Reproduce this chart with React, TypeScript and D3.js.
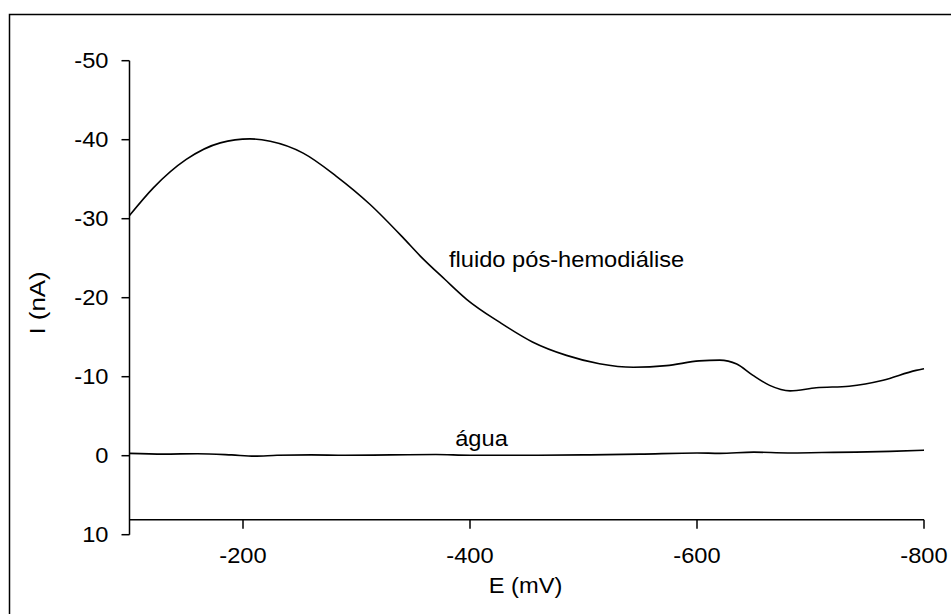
import React from 'react';
import * as d3 from 'd3';

// potential (mV) and current (nA)
const fluidE = [-100, -121, -150, -180, -206, -224, -253, -282, -312, -341, -356, -378, -397, -426, -455, -485, -514, -544, -573, -602, -620, -635, -649, -664, -682, -705, -734, -764, -793, -800];
const fluidI = [-30.4, -33.9, -37.5, -39.6, -40.1, -39.8, -38.3, -35.4, -31.8, -27.6, -25.3, -22.3, -19.8, -16.9, -14.4, -12.7, -11.65, -11.2, -11.4, -12.0, -12.1, -11.6, -10.2, -8.9, -8.2, -8.6, -8.8, -9.55, -10.8, -11.0];

const waterE = [-100, -130, -160, -190, -210, -230, -260, -290, -330, -370, -400, -450, -500, -550, -600, -620, -650, -680, -710, -740, -770, -800];
const waterI = [-0.3, -0.2, -0.25, -0.1, 0.05, -0.05, -0.1, -0.05, -0.1, -0.15, -0.05, -0.05, -0.1, -0.2, -0.35, -0.3, -0.45, -0.35, -0.4, -0.45, -0.55, -0.7];

const xTicks = [-200, -400, -600, -800];
const yTicks = [-50, -40, -30, -20, -10, 0, 10];
const xAxisAt = 8.1; // x axis crosses the y axis a little above 10

const FONT = 'Helvetica, Arial, "Liberation Sans", sans-serif';
const FS = 21.5;
const SX = 1.1; // lettering in the reference is a bit wide

const App: React.FC = () => {
  const width = 951;
  const height = 614;

  const x = d3.scaleLinear().domain([-100, -800]).range([129.5, 924]);
  const y = d3.scaleLinear().domain([-50, 10]).range([60.7, 534.7]);

  const line = d3.line<[number, number]>()
    .x(d => x(d[0]))
    .y(d => y(d[1]))
    .curve(d3.curveMonotoneX);

  const fluidPath = line(fluidE.map((e, i) => [e, fluidI[i]]) as [number, number][]) || '';
  const waterPath = line(waterE.map((e, i) => [e, waterI[i]]) as [number, number][]) || '';

  const axisY = y(xAxisAt);

  const label = (tx: number, ty: number, text: string, anchor: string = 'start') => (
    <g transform={`translate(${tx},${ty}) scale(${SX},1)`}>
      <text textAnchor={anchor} fontFamily={FONT} fontSize={FS} fill="#000">{text}</text>
    </g>
  );

  return (
    <svg width={width} height={height} style={{ position: 'absolute', left: 0, top: 0, background: '#fff' }}>
      <rect x={0} y={0} width={width} height={height} fill="#fff" />
      {/* outer frame, runs off the right and bottom edges */}
      <rect x={9.5} y={14.5} width={960} height={620} fill="none" stroke="#000" strokeWidth={1.5} />

      {/* y axis */}
      <line x1={x(-100)} x2={x(-100)} y1={y(-50)} y2={y(10)} stroke="#000" strokeWidth={1.5} />
      {yTicks.map(t => (
        <g key={t}>
          <line x1={x(-100) - 8} x2={x(-100)} y1={y(t)} y2={y(t)} stroke="#000" strokeWidth={1.5} />
          {label(108.5, y(t) + 7.5, String(t), 'end')}
        </g>
      ))}

      {/* x axis */}
      <line x1={x(-100)} x2={x(-800)} y1={axisY} y2={axisY} stroke="#000" strokeWidth={1.5} />
      {xTicks.map(t => (
        <g key={t}>
          <line x1={x(t)} x2={x(t)} y1={axisY} y2={axisY + 9} stroke="#000" strokeWidth={1.5} />
          {label(x(t), 562.7, String(t), 'middle')}
        </g>
      ))}

      {label(525.5, 593.3, 'E (mV)', 'middle')}
      <g transform={`translate(45,303) rotate(-90) scale(1.2,1)`}>
        <text textAnchor="middle" fontFamily={FONT} fontSize={FS} fill="#000">I (nA)</text>
      </g>

      <path d={fluidPath} fill="none" stroke="#000" strokeWidth={1.6} />
      <path d={waterPath} fill="none" stroke="#000" strokeWidth={1.6} />

      {label(449, 267.3, 'fluido pós-hemodiálise')}
      {label(481.5, 445.7, 'água', 'middle')}
    </svg>
  );
};

export default App;
